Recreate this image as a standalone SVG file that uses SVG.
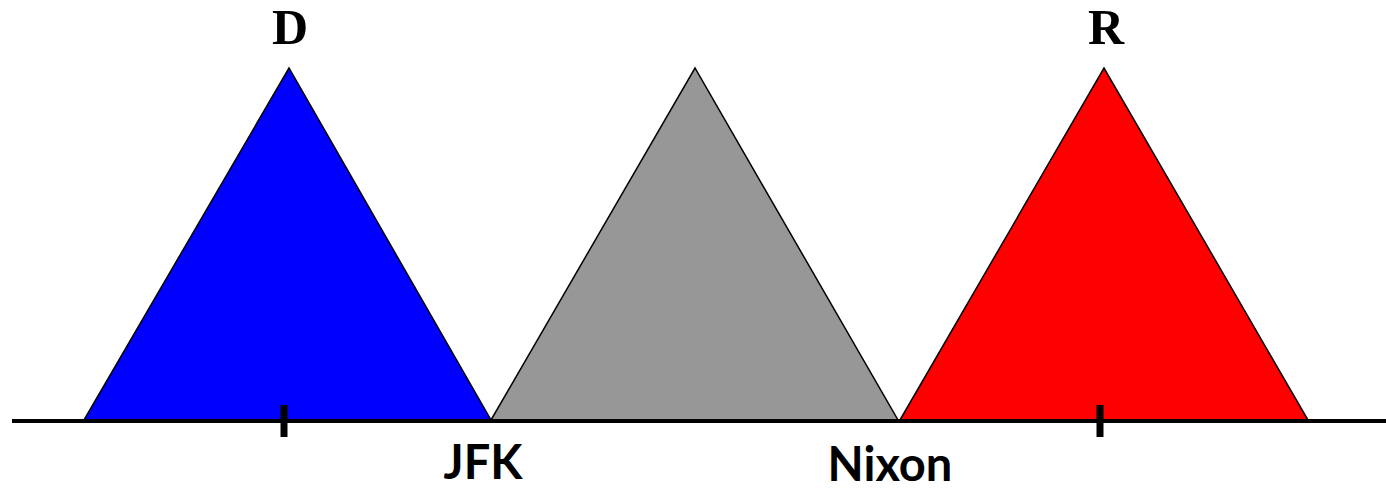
<svg xmlns="http://www.w3.org/2000/svg" width="1386" height="489" viewBox="0 0 1386 489">
<style>
.tri{stroke:#000;stroke-width:1.5;stroke-linejoin:miter}
.top{font-family:"Liberation Serif",serif;font-weight:bold;font-size:50px;text-anchor:middle;fill:#000}
.bot{font-family:Lato,"Liberation Sans",sans-serif;font-weight:bold;font-size:47px;text-anchor:middle;fill:#000}
</style>
<rect width="1386" height="489" fill="#fff"/>
<g id="node-d"><polygon class="tri" fill="#0000ff" points="84,420 289,68 491,420"/></g>
<g id="node-mid"><polygon class="tri" fill="#979797" points="491,420 695,68 898,420"/></g>
<g id="node-r"><polygon class="tri" fill="#ff0000" points="900,420 1104,68 1308,420"/></g>
<g id="connectors">
<line x1="12" y1="421" x2="1386" y2="421" stroke="#000" stroke-width="4"/>
<line x1="284" y1="405" x2="284" y2="437" stroke="#000" stroke-width="7"/>
<line x1="1100" y1="405" x2="1100" y2="437" stroke="#000" stroke-width="7"/>
</g>
<g id="labels">
<text class="top" x="290" y="44">D</text>
<text class="top" x="1106" y="44">R</text>
<text class="bot" x="483" y="479">JFK</text>
<text class="bot" x="890" y="481">Nixon</text>
</g>
</svg>
